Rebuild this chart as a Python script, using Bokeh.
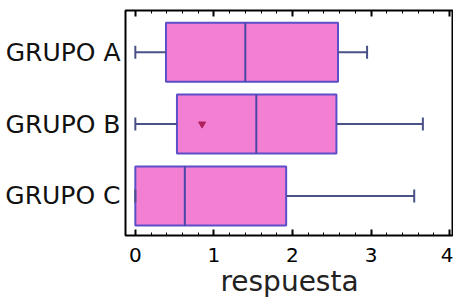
from bokeh.plotting import figure
from bokeh.models import Range1d, LinearAxis, SingleIntervalTicker, FixedTicker
from bokeh.embed import file_html
from bokeh.resources import INLINE

# ---- data ----
groups = ["GRUPO A", "GRUPO B", "GRUPO C"]
ypos = [3, 2, 1]
lower_whisker = [0.0, 0.0, 0.0]
q1 = [0.39, 0.53, 0.0]
median = [1.40, 1.54, 0.63]
q3 = [2.58, 2.56, 1.92]
upper_whisker = [2.95, 3.66, 3.55]
mean_val = [0.85]
mean_y = [2]
x_title = "respuesta"

BOX_H = 0.82
CAP_H = 0.09
FONT = "DejaVu Sans"

p = figure(
    frame_width=328, frame_height=225,
    x_range=Range1d(-0.125, 4.05), y_range=Range1d(0.45, 3.58),
    output_backend="svg", toolbar_location=None,
    x_axis_location=None, y_axis_location=None,
    min_border_left=125, min_border_right=0, min_border_top=10, min_border_bottom=63,
)
p.background_fill_color = "white"
p.border_fill_color = "white"
p.outline_line_color = "black"
p.outline_line_width = 2
p.xgrid.visible = False
p.ygrid.visible = False

# boxes
p.hbar(y=ypos, left=q1, right=q3, height=BOX_H,
       fill_color="#f27fd2", line_color="#5a4fc8", line_width=2)
# medians
p.segment(x0=median, y0=[y - BOX_H / 2 for y in ypos],
          x1=median, y1=[y + BOX_H / 2 for y in ypos],
          line_color="#4b45a8", line_width=2)
# whiskers
wcol = "#4a5088"
p.segment(x0=lower_whisker, y0=ypos, x1=q1, y1=ypos, line_color=wcol, line_width=2)
p.segment(x0=q3, y0=ypos, x1=upper_whisker, y1=ypos, line_color=wcol, line_width=2)
p.segment(x0=lower_whisker, y0=[y - CAP_H for y in ypos],
          x1=lower_whisker, y1=[y + CAP_H for y in ypos], line_color=wcol, line_width=2)
p.segment(x0=upper_whisker, y0=[y - CAP_H for y in ypos],
          x1=upper_whisker, y1=[y + CAP_H for y in ypos], line_color=wcol, line_width=2)
# mean marker
p.scatter(x=mean_val, y=mean_y, marker="inverted_triangle", size=7,
          fill_color="#b0205a", line_color="#b0205a")

# bottom axis
xa = LinearAxis(ticker=SingleIntervalTicker(interval=1, num_minor_ticks=5))
xa.axis_line_color = None
xa.major_tick_in = 6
xa.major_tick_out = 0
xa.minor_tick_in = 3
xa.minor_tick_out = 0
xa.major_tick_line_width = 2
xa.major_label_standoff = 12
xa.major_label_text_font = FONT
xa.major_label_text_font_size = "20px"
xa.major_label_text_color = "black"
xa.axis_label = x_title
xa.axis_label_text_font = FONT
xa.axis_label_text_font_size = "28px"
xa.axis_label_text_font_style = "normal"
xa.axis_label_text_color = "#222222"
xa.axis_label_standoff = 0
p.add_layout(xa, "below")

# top axis (ticks only, labels not drawn)
ta = LinearAxis(ticker=SingleIntervalTicker(interval=1, num_minor_ticks=5))
ta.axis_line_color = None
ta.major_tick_in = 6
ta.major_tick_out = 0
ta.minor_tick_in = 3
ta.minor_tick_out = 0
ta.major_tick_line_width = 2
ta.major_label_standoff = 0
ta.major_label_text_font_size = "1px"
ta.major_label_text_color = None
p.add_layout(ta, "above")

# left axis with group names
ya = LinearAxis(ticker=FixedTicker(ticks=ypos))
ya.major_label_overrides = {y: g for y, g in zip(ypos, groups)}
ya.axis_line_color = None
ya.major_tick_line_color = None
ya.minor_tick_line_color = None
ya.major_tick_in = 0
ya.major_tick_out = 0
ya.major_label_standoff = 5
ya.major_label_text_font = FONT
ya.major_label_text_font_size = "25px"
ya.major_label_text_color = "#111111"
p.add_layout(ya, "left")

open("out.html", "w").write(file_html(p, INLINE))
